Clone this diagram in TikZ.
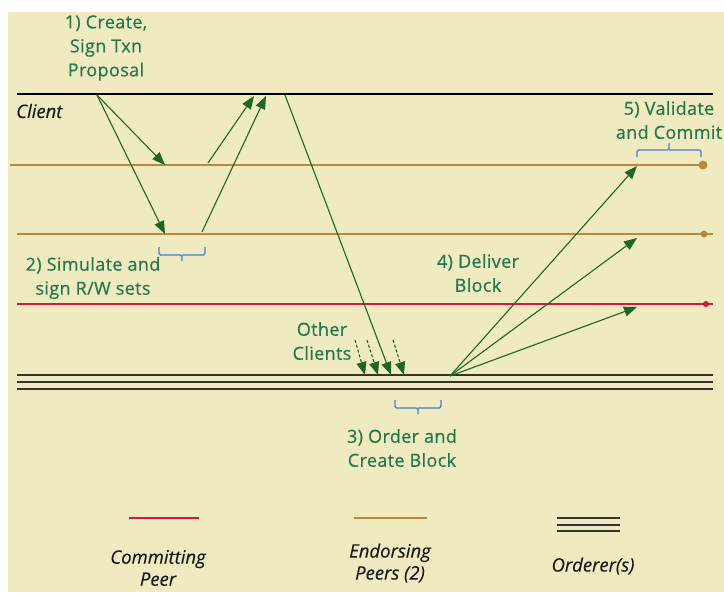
\documentclass[tikz,border=0pt]{standalone}
\usepackage{fontspec}
\setmainfont{Open Sans}
\newfontfamily\lblfont{Open Sans}[FakeBold=0.5, LetterSpace=2]
\newfontfamily\legfont{Open Sans Italic}[FakeBold=0.3]
\usetikzlibrary{arrows.meta}
\definecolor{bg}{HTML}{F0EAC0}
\definecolor{txtgreen}{HTML}{23784A}
\definecolor{arrgreen}{HTML}{1E6526}
\definecolor{endors}{HTML}{BC8A36}
\definecolor{commit}{HTML}{D21A3A}
\definecolor{bracec}{HTML}{4A7BD6}
\tikzset{
  lbl/.style={text=txtgreen, align=center, inner sep=0pt, font=\lblfont\fontsize{18}{24}\selectfont},
  leg/.style={text=black!90, align=center, inner sep=0pt, font=\legfont\fontsize{18.5}{22}\selectfont},
  msg/.style={draw=arrgreen, line width=1.1pt, -{Triangle[length=13pt,width=10pt]}},
  dmsg/.style={msg, dashed, dash pattern=on 3pt off 2pt},
  brc/.style={draw=bracec, line width=1.1pt, rounded corners=1.5pt},
  cline/.style={draw=black, line width=2.2pt},
  eline/.style={draw=endors, line width=2.2pt},
  rline/.style={draw=commit, line width=2.2pt},
  oline/.style={draw=black!80, line width=1.3pt}
}
\begin{document}
\begin{tikzpicture}[x=1pt,y=-1pt]
\useasboundingbox (0,0) rectangle (724,595);
\fill[bg] (8,12) rectangle (724,592);

% lifelines
\draw[cline] (17,94) -- (713,94);
\draw[eline] (10,165) -- (703,165);
\fill[endors] (703,165) circle (4.5pt);
\draw[eline] (17,234) -- (713,234);
\fill[endors] (704,234) circle (3.5pt);
\draw[rline] (17,304) -- (713,304);
\fill[commit] (706,304) circle (3pt);
\draw[oline] (17,375) -- (713,375);
\draw[oline] (17,382) -- (713,382);
\draw[oline] (17,389) -- (713,389);

% coordinates
\coordinate (c0) at (97,95);
\coordinate (e1in) at (165,165);
\coordinate (e2in) at (165,234);
\coordinate (e1out) at (208,163);
\coordinate (e2out) at (202,232);
\coordinate (c1) at (254,96);
\coordinate (c2) at (266,96);
\coordinate (c3) at (285,95);
\coordinate (o1) at (391,375);
\coordinate (d1s) at (355,340);
\coordinate (d1e) at (365,375);
\coordinate (d2s) at (367,340);
\coordinate (d2e) at (378,375);
\coordinate (d3s) at (393,340);
\coordinate (d3e) at (404,375);
\coordinate (ob) at (450,376);
\coordinate (p1) at (637,166);
\coordinate (p2) at (637,238);
\coordinate (p3) at (637,307);

% messages
\draw[msg] (c0) -- (e1in);
\draw[msg] (c0) -- (e2in);
\draw[msg] (e1out) -- (c1);
\draw[msg] (e2out) -- (c2);
\draw[msg] (c3) -- (o1);
\draw[dmsg] (d1s) -- (d1e);
\draw[dmsg] (d2s) -- (d2e);
\draw[dmsg] (d3s) -- (d3e);
\draw[msg] (ob) -- (p1);
\draw[msg] (ob) -- (p2);
\draw[msg] (ob) -- (p3);

% braces
\draw[brc] (159,247) |- (182,255) -- (182,261);
\draw[brc] (205,247) |- (182,255);
\draw[brc] (395,400) |- (418,408) -- (418,414);
\draw[brc] (441,400) |- (418,408);
\draw[brc] (637,157) |- (669,150) -- (669,143);
\draw[brc] (701,157) |- (669,150);

% labels
\node[lbl] (t1) at (106,48) {1) Create,\\Sign Txn\\Proposal};
\node[leg, anchor=west] (tcl) at (16,111) {Client};
\node[lbl] (t2) at (93,278) {2) Simulate and\\sign R/W sets};
\node[lbl] (toc) at (322,341) {Other\\Clients};
\node[lbl] (t3) at (402,448) {3) Order and\\Create Block};
\node[lbl] (t4) at (478,273) {4) Deliver\\Block};
\node[lbl] (t5) at (669,120) {5) Validate\\and Commit};

% legend
\draw[rline] (129,518) -- (199,518);
\draw[eline] (354,518) -- (427,518);
\draw[oline] (557,518) -- (620,518);
\draw[oline] (557,525) -- (620,525);
\draw[oline] (557,531) -- (620,531);
\node[leg] (l1) at (158,568) {Committing\\Peer};
\node[leg] (l2) at (390,563) {Endorsing\\Peers (2)};
\node[leg] (l3) at (593,566) {Orderer(s)};
\end{tikzpicture}
\end{document}
